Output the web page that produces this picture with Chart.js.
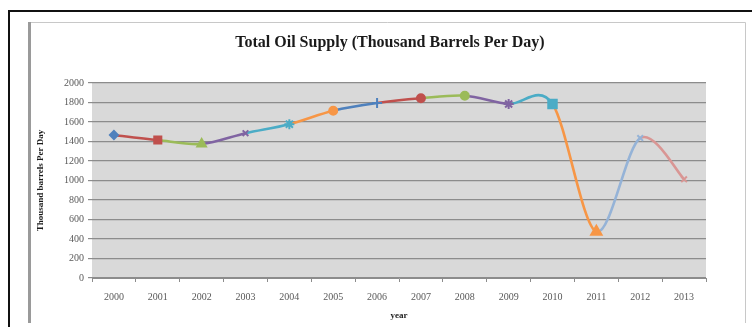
<!DOCTYPE html>
<html>
<head>
<meta charset="utf-8">
<script src="https://cdn.jsdelivr.net/npm/chart.js@4.4.1/dist/chart.umd.min.js"></script>
<style>
  html, body { margin: 0; padding: 0; background: #ffffff; }
  #wrap { position: relative; width: 752px; height: 327px; }
</style>
</head>
<body>
<div id="wrap"><canvas id="oil" width="752" height="327"></canvas></div>
<script>
// Total oil supply, thousand barrels per day
const years = ['2000', '2001', '2002', '2003', '2004', '2005', '2006',
               '2007', '2008', '2009', '2010', '2011', '2012', '2013'];
const supply = [1467, 1415, 1375, 1485, 1578, 1716, 1795,
                1843, 1870, 1785, 1785, 475, 1435, 1012];
const yTicks = [0, 200, 400, 600, 800, 1000, 1200, 1400, 1600, 1800, 2000];
const chartTitle = 'Total Oil Supply (Thousand Barrels Per Day)';

// Per-year colour and marker (each segment takes the colour of the year it ends on)
const yearColors = ['#4F81BD', '#C0504D', '#9BBB59', '#8064A2', '#4BACC6', '#F79646', '#4F81BD',
                    '#C0504D', '#9BBB59', '#8064A2', '#4BACC6', '#F79646', '#95B3D7', '#D99694'];
const yearMarkers = ['rectRot', 'rect', 'triangle', 'crossRot', 'star', 'circle', 'cross',
                     'circle', 'circle', 'star', 'rect', 'triangle', 'crossRot', 'crossRot'];
const markerSizes = [4, 5, 5, 4, 5, 4, 5, 4, 4, 5, 6, 6, 4, 4];

// Spreadsheet-style smoothing: Catmull-Rom handles on the points the scales placed
const SMOOTH = 0.16;
const smoothPlugin = {
  id: 'smooth',
  beforeDatasetsDraw(chart) {
    const meta = chart.getDatasetMeta(0);
    const line = meta.dataset;
    line.updateControlPoints(chart.chartArea, 'x');
    const pts = meta.data;
    pts.forEach((p, i) => {
      const prev = pts[Math.max(i - 1, 0)];
      const next = pts[Math.min(i + 1, pts.length - 1)];
      const dx = next.x - prev.x;
      const dy = next.y - prev.y;
      p.cp1x = p.x - SMOOTH * dx;
      p.cp1y = p.y - SMOOTH * dy;
      p.cp2x = p.x + SMOOTH * dx;
      p.cp2y = p.y + SMOOTH * dy;
    });
  }
};

// Page frame, plot-area fill and heading
const framePlugin = {
  id: 'frame',
  beforeDraw(chart) {
    const ctx = chart.ctx;
    const a = chart.chartArea;
    ctx.save();
    ctx.fillStyle = '#ffffff';
    ctx.fillRect(0, 0, chart.width, chart.height);
    // outer black rule
    ctx.strokeStyle = '#111111';
    ctx.lineWidth = 2;
    ctx.beginPath();
    ctx.moveTo(752, 11);
    ctx.lineTo(9, 11);
    ctx.lineTo(9, 327);
    ctx.stroke();
    // chart border
    ctx.strokeStyle = '#c8c8c8';
    ctx.lineWidth = 1;
    ctx.beginPath();
    ctx.moveTo(30, 22.5);
    ctx.lineTo(745.5, 22.5);
    ctx.lineTo(745.5, 323);
    ctx.stroke();
    ctx.strokeStyle = '#9a9a9a';
    ctx.lineWidth = 3;
    ctx.beginPath();
    ctx.moveTo(29.5, 22);
    ctx.lineTo(29.5, 323);
    ctx.stroke();
    // plot area
    ctx.fillStyle = '#d9d9d9';
    ctx.fillRect(a.left, a.top, a.right - a.left, a.bottom - a.top);
    // heading
    ctx.fillStyle = '#1a1a1a';
    ctx.font = 'bold 16px "Liberation Serif"';
    ctx.textAlign = 'center';
    ctx.textBaseline = 'middle';
    ctx.fillText(chartTitle, 390, 43);
    ctx.restore();
  }
};

new Chart(document.getElementById('oil'), {
  type: 'line',
  data: {
    labels: years,
    datasets: [{
      label: 'Total Oil Supply',
      data: supply,
      tension: 0.4,
      borderWidth: 2.6,
      borderColor: yearColors[1],
      segment: {
        borderColor: c => yearColors[c.p1DataIndex]
      },
      pointStyle: yearMarkers,
      pointRadius: markerSizes,
      pointBackgroundColor: yearColors,
      pointBorderColor: yearColors,
      pointBorderWidth: 2
    }]
  },
  options: {
    responsive: false,
    animation: false,
    devicePixelRatio: 1,
    layout: { padding: { left: 30, right: 46, top: 83, bottom: 4 } },
    plugins: {
      legend: { display: false },
      tooltip: { enabled: false },
      title: { display: false }
    },
    scales: {
      x: {
        type: 'category',
        offset: true,
        afterFit(s) { s.height = 45; },
        grid: {
          offset: true,
          drawOnChartArea: false,
          drawTicks: true,
          tickLength: 4,
          color: '#8c8c8c'
        },
        border: { display: true, color: '#8c8c8c', width: 1 },
        ticks: {
          color: '#595959',
          padding: 9,
          maxRotation: 0,
          autoSkip: false,
          font: { family: 'Liberation Serif', size: 10 }
        },
        title: {
          display: true,
          text: 'year',
          color: '#1a1a1a',
          font: { family: 'Liberation Serif', size: 9, weight: 'bold' },
          padding: { top: 0, bottom: 2 }
        }
      },
      y: {
        min: 0,
        max: 2000,
        afterFit(s) { s.width = 62; },
        afterBuildTicks(s) { s.ticks = yTicks.map(v => ({ value: v })); },
        grid: {
          color: '#8c8c8c',
          lineWidth: 1.2,
          drawTicks: true,
          tickLength: 4
        },
        border: { display: false },
        ticks: {
          color: '#595959',
          padding: 4,
          callback: v => String(v),
          font: { family: 'Liberation Serif', size: 10 }
        },
        title: {
          display: true,
          text: 'Thousand barrels Per Day',
          color: '#1a1a1a',
          font: { family: 'Liberation Serif', size: 9, weight: 'bold' },
          padding: { top: 5, bottom: 0 }
        }
      }
    }
  },
  plugins: [smoothPlugin, framePlugin]
});
</script>
</body>
</html>
